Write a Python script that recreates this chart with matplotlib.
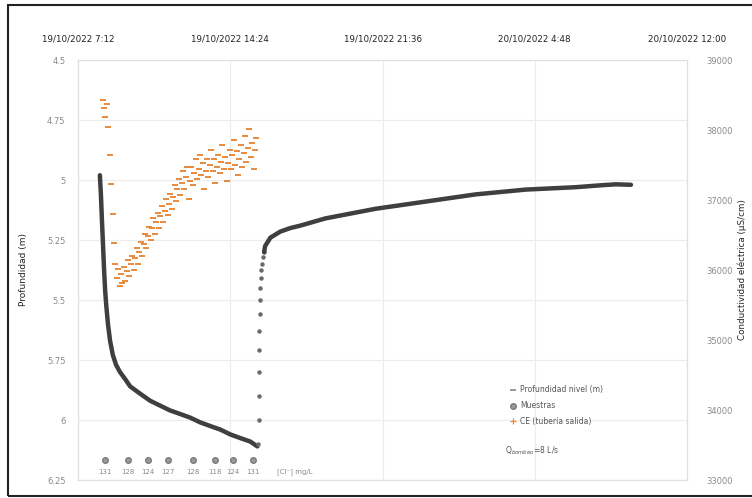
import numpy as np
import pandas as pd
import matplotlib
matplotlib.use("Agg")
import matplotlib.pyplot as plt
from matplotlib.lines import Line2D
from matplotlib.patches import Rectangle

# ---- data -------------------------------------------------------------
# minutes after 19/10/2022 07:12
t0 = pd.Timestamp("2022-10-19 07:12")

# water level during pumping (m below reference)
pump_min = [62, 65, 68, 71, 74, 77, 80, 85, 91, 99, 108, 119, 134, 148, 176,
            205, 233, 261, 290, 318, 347, 375, 404, 432, 460, 489, 509]
pump_depth = [4.98, 5.06, 5.17, 5.27, 5.375, 5.46, 5.52, 5.60, 5.67, 5.73, 5.77,
              5.80, 5.83, 5.86, 5.89, 5.92, 5.94, 5.96, 5.975, 5.99, 6.01, 6.025,
              6.04, 6.06, 6.075, 6.09, 6.11]

# water level during recovery
rec_min = [512, 512.5, 513, 513.5, 514, 514.5, 515, 516, 517, 518, 520, 522,
           525, 528, 531, 546, 574, 603, 631, 702, 773, 844, 915, 986, 1057,
           1128, 1199, 1270, 1341, 1412, 1484, 1526, 1569]
rec_depth = [6.10, 6.00, 5.90, 5.80, 5.71, 5.63, 5.56, 5.50, 5.45, 5.41, 5.375,
             5.35, 5.32, 5.30, 5.275, 5.24, 5.215, 5.20, 5.19, 5.16, 5.14, 5.12,
             5.105, 5.09, 5.075, 5.06, 5.05, 5.04, 5.035, 5.03, 5.022, 5.018, 5.02]

# electrical conductivity at the outlet pipe (uS/cm), logged every 4 min from minute 70
ce_start_min = 70
ce_step_min = 4
ce_values = [38430, 38320, 38180, 38370, 38040, 37650, 37230, 36800, 36380, 36090,
             35880, 36020, 35770, 35940, 35820, 36050, 35850, 35990, 36140, 35910,
             36080, 36200, 36000, 36170, 36310, 36080, 36260, 36400, 36200, 36370,
             36510, 36310, 36480, 36620, 36430, 36600, 36740, 36510, 36680, 36820,
             36600, 36770, 36910, 36680, 36850, 37020, 36790, 36940, 37090, 36870,
             37040, 37210, 36990, 37160, 37300, 37070, 37240, 37410, 37160, 37330,
             37470, 37020, 37270, 37470, 37210, 37380, 37580, 37300, 37440, 37640,
             37360, 37530, 37160, 37410, 37580, 37330, 37500, 37720, 37410, 37580,
             37240, 37470, 37640, 37380, 37550, 37780, 37440, 37610, 37270, 37530,
             37720, 37440, 37640, 37860, 37500, 37700, 37360, 37580, 37780, 37470,
             37670, 37920, 37550, 37750, 38010, 37610, 37810, 37440, 37720, 37890]

# water samples
sample_min = [77, 142, 199, 256, 327, 389, 440, 497]
sample_labels = ["131", "128", "124", "127", "128", "118", "124", "131"]

depth_ticks = [4.5, 4.75, 5, 5.25, 5.5, 5.75, 6, 6.25]
depth_tick_labels = ["4.5", "4.75", "5", "5.25", "5.5", "5.75", "6", "6.25"]
ce_ticks = [33000, 34000, 35000, 36000, 37000, 38000, 39000]

# ---- figure -----------------------------------------------------------
W, H = 752, 498
fig = plt.figure(figsize=(W / 100, H / 100), dpi=100)
fig.patch.set_facecolor("white")

L, R, T, B = 78, 687, 60, 480
ax = fig.add_axes([L / W, 1 - B / H, (R - L) / W, (B - T) / H])
ax2 = ax.twinx()

def when(minutes):
    return t0 + pd.to_timedelta(np.asarray(minutes, dtype=float), unit="min")

level_col = "#3f3f3f"
ax.plot(when(pump_min), pump_depth, color=level_col, lw=3.2,
        solid_capstyle="round", zorder=3)
ax.plot(when(rec_min[:14]), rec_depth[:14], ls="none", marker="o", ms=2.2,
        color="#6a6a6a", zorder=3)
ax.plot(when(rec_min[13:]), rec_depth[13:], color=level_col, lw=3.2,
        solid_capstyle="round", zorder=3)

ce_min = ce_start_min + ce_step_min * np.arange(len(ce_values))
ax2.plot(when(ce_min), ce_values, ls="none", marker="_", ms=4.5, mew=1.4,
         color="#E8893A", zorder=4)

# samples along the bottom of the plot
xform = ax.get_xaxis_transform()
ax.plot(when(sample_min), [0.048] * len(sample_min), transform=xform, ls="none",
        marker="o", ms=4, color="#9a9a9a", mec="#7a7a7a", zorder=4)
for m, lab in zip(sample_min, sample_labels):
    ax.text(when([m])[0], 0.02, lab, transform=xform, ha="center", va="center",
            fontsize=5, color="#8a8a8a")
ax.text(0.327, 0.02, "[Cl\u207b] mg/L", transform=ax.transAxes, ha="left",
        va="center", fontsize=5, color="#8a8a8a")

# axes ranges and ticks
ax.set_ylim(6.25, 4.5)
ax.set_yticks(depth_ticks)
ax.set_yticklabels(depth_tick_labels)
ax2.set_ylim(33000, 39000)
ax2.set_yticks(ce_ticks)

ax.set_xlim(pd.Timestamp("2022-10-19 07:12"), pd.Timestamp("2022-10-20 12:00"))
xt = [t0 + pd.Timedelta(hours=7.2 * i) for i in range(5)]
ax.set_xticks(xt)
ax.set_xticklabels([f"{d.day}/{d.month}/{d.year} {d.hour}:{d.minute:02d}" for d in xt])
ax.xaxis.tick_top()
ax.tick_params(axis="x", length=0, pad=12, labelsize=6.3, labelcolor="#222222")
ax.tick_params(axis="y", length=0, pad=9, labelsize=6, labelcolor="#8a8a8a")
ax2.tick_params(axis="y", length=0, pad=14, labelsize=6, labelcolor="#8a8a8a")

ax.grid(True, color="#ececec", lw=0.8)
ax.set_axisbelow(True)
for a in (ax, ax2):
    for s in a.spines.values():
        s.set_color("#e0e0e0")
        s.set_linewidth(0.8)

ax.set_ylabel("Profundidad (m)", fontsize=6.5, color="#222222", labelpad=14)
ax2.set_ylabel("Conductividad eléctrica (µS/cm)", fontsize=6.3, color="#222222",
               rotation=90, labelpad=3)

# legend
handles = [
    Line2D([], [], ls="none", marker="_", ms=5, mew=1.4, color="#9a9a9a"),
    Line2D([], [], ls="none", marker="o", ms=4, color="#9a9a9a", mec="#7a7a7a"),
    Line2D([], [], ls="none", marker="+", ms=4, mew=0.9, color="#E8893A"),
]
ax.legend(handles, ["Profundidad nivel (m)", "Muestras", "CE (tubería salida)"],
          loc="upper left", bbox_to_anchor=((505 - L) / (R - L), 1 - (380 - T) / (B - T)),
          frameon=False, fontsize=5.5, handlelength=0.8, handletextpad=0.5,
          labelspacing=0.9, borderpad=0.2, labelcolor="#555555")
ax.text((505 - L) / (R - L), 1 - (451 - T) / (B - T), "Q$_{bombeo}$=8 L/s",
        transform=ax.transAxes, fontsize=5.5, color="#555555", va="center")

# outer frame
fig.add_artist(Rectangle((8 / W, 1 - 496 / H), 1.0, (496 - 5) / H,
                         transform=fig.transFigure, fill=False,
                         edgecolor="#222222", lw=1.5))

fig.savefig("out.png", dpi=100)
